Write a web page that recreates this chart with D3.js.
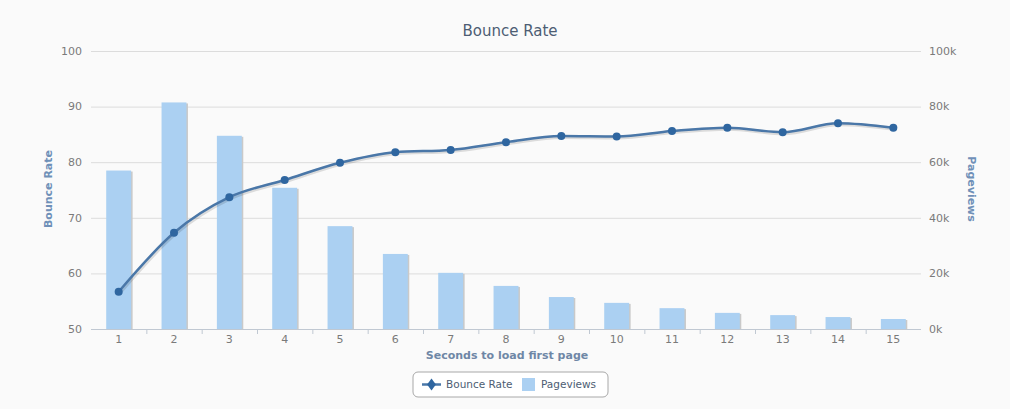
<!DOCTYPE html>
<html lang="en">
<head>
<meta charset="UTF-8">
<title>Bounce Rate</title>
<script src="https://d3js.org/d3.v7.min.js"></script>
<style>
  body { margin: 0; background: #fafafa; }
  text { font-family: "DejaVu Sans", sans-serif; }
  .tick-label { font-size: 11px; fill: #7a7a7a; }
</style>
</head>
<body>
<svg width="1010" height="409"></svg>
<script>
const seconds = ["1","2","3","4","5","6","7","8","9","10","11","12","13","14","15"];
const bounceRate = [56.7, 67.3, 73.7, 76.8, 79.9, 81.8, 82.2, 83.6, 84.7, 84.6, 85.6, 86.2, 85.4, 87.0, 86.2];
const pageviews = [57000, 81500, 69500, 50800, 37000, 27000, 20200, 15500, 11500, 9400, 7500, 5800, 5000, 4300, 3600];
const leftTicks = [50, 60, 70, 80, 90, 100];
const rightTicks = [0, 20000, 40000, 60000, 80000, 100000];

const width = 1010, height = 409;
const plot = { left: 91, right: 921, top: 51, bottom: 329 };

const svg = d3.select("svg");
svg.append("rect").attr("width", width).attr("height", height).attr("fill", "#fafafa");

const x = d3.scaleBand().domain(seconds).range([plot.left, plot.right]);
const yLeft = d3.scaleLinear().domain([50, 100]).range([plot.bottom, plot.top]);
const yRight = d3.scaleLinear().domain([0, 100000]).range([plot.bottom, plot.top]);

// gridlines
svg.append("g").selectAll("line")
  .data(leftTicks.slice(1))
  .enter().append("line")
  .attr("x1", plot.left).attr("x2", plot.right)
  .attr("y1", d => yLeft(d) + 0.5).attr("y2", d => yLeft(d) + 0.5)
  .attr("stroke", "#dcdcdc");

// left axis labels
svg.append("g").selectAll("text")
  .data(leftTicks)
  .enter().append("text")
  .attr("class", "tick-label")
  .attr("x", 82).attr("y", d => yLeft(d)).attr("dy", "0.35em")
  .attr("text-anchor", "end")
  .text(d => d);

// right axis labels
svg.append("g").selectAll("text")
  .data(rightTicks)
  .enter().append("text")
  .attr("class", "tick-label")
  .attr("x", 929).attr("y", d => yRight(d)).attr("dy", "0.35em")
  .text(d => (d / 1000) + "k");

// bars with a soft shadow
const barW = x.bandwidth() * 0.45;
const bars = svg.append("g");
bars.selectAll(".shadow")
  .data(pageviews)
  .enter().append("rect")
  .attr("class", "shadow")
  .attr("x", (d, i) => x(seconds[i]) + (x.bandwidth() - barW) / 2 + 1.5)
  .attr("y", d => yRight(d) + 1)
  .attr("width", barW)
  .attr("height", d => plot.bottom - yRight(d) - 1)
  .attr("fill", "#c9c9c9");
bars.selectAll(".bar")
  .data(pageviews)
  .enter().append("rect")
  .attr("class", "bar")
  .attr("x", (d, i) => x(seconds[i]) + (x.bandwidth() - barW) / 2)
  .attr("y", d => yRight(d))
  .attr("width", barW)
  .attr("height", d => plot.bottom - yRight(d))
  .attr("fill", "#abd0f2");

// x axis line and ticks
svg.append("line")
  .attr("x1", plot.left).attr("x2", plot.right)
  .attr("y1", plot.bottom + 0.5).attr("y2", plot.bottom + 0.5)
  .attr("stroke", "#c0c8d2");
svg.append("g").selectAll("line")
  .data(seconds.slice(1))
  .enter().append("line")
  .attr("x1", d => x(d) + 0.5).attr("x2", d => x(d) + 0.5)
  .attr("y1", plot.bottom).attr("y2", plot.bottom + 5)
  .attr("stroke", "#c0c8d2");
svg.append("g").selectAll("text")
  .data(seconds)
  .enter().append("text")
  .attr("class", "tick-label")
  .attr("x", d => x(d) + x.bandwidth() / 2).attr("y", 343)
  .attr("text-anchor", "middle")
  .text(d => d);

// bounce rate line
const line = d3.line()
  .x((d, i) => x(seconds[i]) + x.bandwidth() / 2)
  .y(d => yLeft(d))
  .curve(d3.curveMonotoneX);
svg.append("path")
  .datum(bounceRate)
  .attr("d", line)
  .attr("fill", "none")
  .attr("stroke", "#000")
  .attr("stroke-opacity", 0.12)
  .attr("stroke-width", 4)
  .attr("transform", "translate(1,1)");
svg.append("path")
  .datum(bounceRate)
  .attr("d", line)
  .attr("fill", "none")
  .attr("stroke", "#4a77a8")
  .attr("stroke-width", 2.5);
svg.append("g").selectAll("circle")
  .data(bounceRate)
  .enter().append("circle")
  .attr("cx", (d, i) => x(seconds[i]) + x.bandwidth() / 2)
  .attr("cy", d => yLeft(d))
  .attr("r", 4)
  .attr("fill", "#2f66a0");

// titles
svg.append("text")
  .attr("x", 510).attr("y", 36)
  .attr("text-anchor", "middle")
  .attr("font-size", 15)
  .attr("fill", "#4d5d73")
  .text("Bounce Rate");

svg.append("text")
  .attr("transform", "translate(52,189) rotate(-90)")
  .attr("text-anchor", "middle")
  .attr("font-size", 11).attr("font-weight", "bold")
  .attr("fill", "#6f90b8")
  .text("Bounce Rate");

svg.append("text")
  .attr("transform", "translate(968,189) rotate(90)")
  .attr("text-anchor", "middle")
  .attr("font-size", 11).attr("font-weight", "bold")
  .attr("fill", "#6f90b8")
  .text("Pageviews");

svg.append("text")
  .attr("x", 507).attr("y", 359)
  .attr("text-anchor", "middle")
  .attr("font-size", 11).attr("font-weight", "bold")
  .attr("fill", "#6f87a6")
  .text("Seconds to load first page");

// legend
const legend = svg.append("g").attr("transform", "translate(413,372)");
legend.append("rect")
  .attr("width", 195).attr("height", 25).attr("rx", 5)
  .attr("fill", "#fff").attr("stroke", "#a8a8a8");
legend.append("line")
  .attr("x1", 9).attr("x2", 28).attr("y1", 12.5).attr("y2", 12.5)
  .attr("stroke", "#4a77a8").attr("stroke-width", 2.5);
legend.append("path")
  .attr("d", d3.symbol(d3.symbolDiamond, 40)())
  .attr("transform", "translate(18.5,12.5) scale(1.3,1)")
  .attr("fill", "#2f66a0");
legend.append("text")
  .attr("x", 33).attr("y", 12.5).attr("dy", "0.35em")
  .attr("font-size", 10.5).attr("fill", "#4d5d73")
  .text("Bounce Rate");
legend.append("rect")
  .attr("x", 109).attr("y", 6).attr("width", 13).attr("height", 13)
  .attr("fill", "#abd0f2");
legend.append("text")
  .attr("x", 128).attr("y", 12.5).attr("dy", "0.35em")
  .attr("font-size", 10.5).attr("fill", "#4d5d73")
  .text("Pageviews");
</script>
</body>
</html>
